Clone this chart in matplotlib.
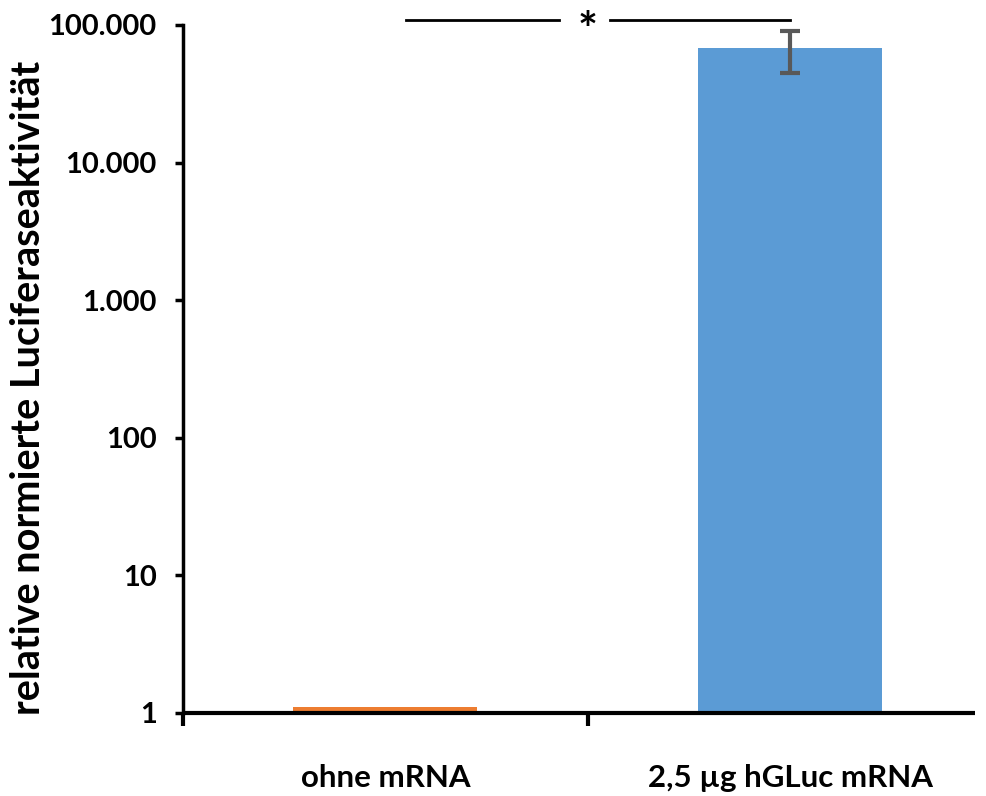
import matplotlib
matplotlib.use("Agg")
import matplotlib.pyplot as plt
from matplotlib.ticker import FixedLocator, FixedFormatter, NullLocator

categories = ["ohne mRNA", "2,5 µg hGLuc mRNA"]
values = [1.1, 68000]
err_low = [0, 68000 - 45000]
err_high = [0, 90000 - 68000]
colors = ["#ED7D31", "#5B9BD5"]
ytick_vals = [1, 10, 100, 1000, 10000, 100000]
ytick_labels = ["1", "10", "100", "1.000", "10.000", "100.000"]
ylabel = "relative normierte Luciferaseaktivität"
sig_label = "*"

plt.rcParams['font.family'] = ['Lato', 'DejaVu Sans']

fig = plt.figure(figsize=(9.86, 7.96), dpi=100)
ax = fig.add_axes([0.1856, 0.1043, 0.8034, 0.8643])

x = list(range(len(categories)))
ax.bar(x, values, width=0.455, color=colors, zorder=2)
ax.errorbar([x[1]], [values[1]], yerr=[[err_low[1]], [err_high[1]]], fmt='none',
            ecolor="#595959", elinewidth=3, capsize=7, capthick=3, zorder=3)

ax.set_yscale('log')
ax.set_ylim(1, 100000)
ax.set_xlim(-0.5, 1.457)
ax.yaxis.set_major_locator(FixedLocator(ytick_vals))
ax.yaxis.set_major_formatter(FixedFormatter(ytick_labels))
ax.yaxis.set_minor_locator(NullLocator())

ax.set_xticks([-0.5, 0.5])
ax.set_xticklabels(["", ""])
ax.tick_params(axis='x', direction='out', length=9, width=3, pad=0)
ax.tick_params(axis='y', direction='out', length=6, width=2.5, labelsize=21, pad=13)
for lab in ax.get_yticklabels():
    lab.set_fontweight('bold')

for i, c in enumerate(categories):
    ax.annotate(c, xy=(x[i], 0), xycoords=('data', 'axes fraction'),
                xytext=(0, -47), textcoords='offset points', ha='center', va='center',
                fontsize=22.5, fontweight='bold')

for s in ['top', 'right']:
    ax.spines[s].set_visible(False)
ax.spines['left'].set_linewidth(2.5)
ax.spines['bottom'].set_linewidth(3)
ax.spines['bottom'].set_capstyle('butt')

ax.set_ylabel(ylabel, fontsize=28.5, fontweight='bold')
ax.yaxis.set_label_coords(-0.172, 0.472)

# significance bar
ysig = 108000
ax.plot([0.05, 0.43], [ysig, ysig], color='black', lw=2, clip_on=False)
ax.plot([0.555, 1.0], [ysig, ysig], color='black', lw=2, clip_on=False)
ax.annotate(sig_label, xy=(0.5, ysig), xycoords='data', xytext=(0, -8),
            textcoords='offset points', ha='center', va='center', fontsize=34,
            fontweight='bold', annotation_clip=False)

fig.savefig("out.png", dpi=100)
